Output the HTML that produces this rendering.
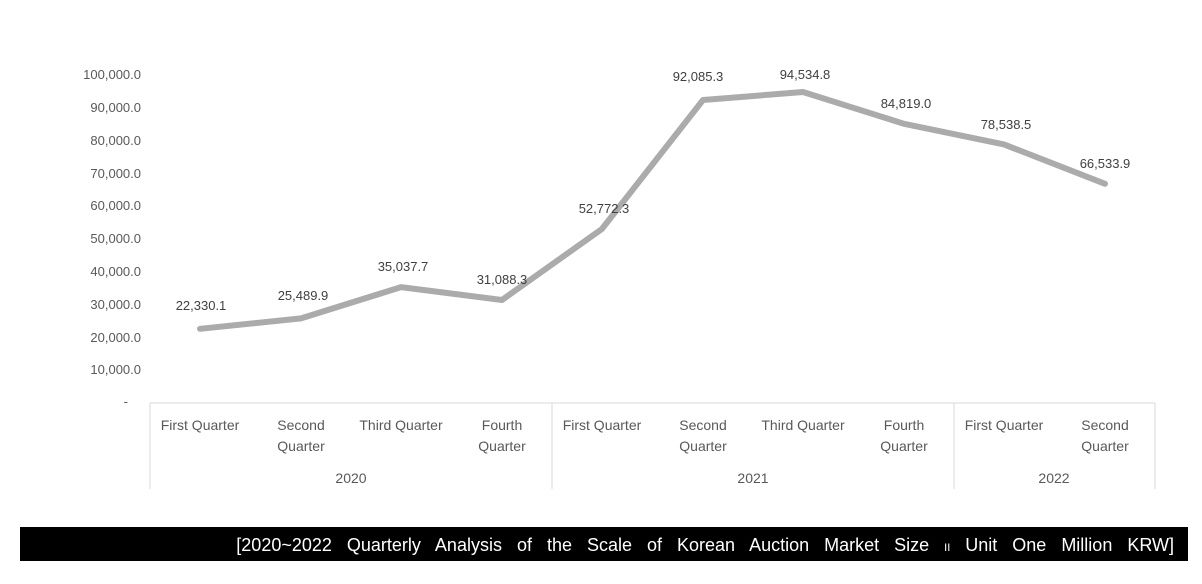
<!DOCTYPE html>
<html><head><meta charset="utf-8"><style>
body{margin:0;background:#fff;width:1202px;height:579px;overflow:hidden;font-family:"Liberation Sans",sans-serif;}
</style></head><body>
<svg width="1202" height="579" xmlns="http://www.w3.org/2000/svg" font-family="Liberation Sans, sans-serif">
<g fill="#595959" font-size="13" text-anchor="end">
<text x="141" y="79">100,000.0</text>
<text x="141" y="112">90,000.0</text>
<text x="141" y="145">80,000.0</text>
<text x="141" y="178">70,000.0</text>
<text x="141" y="210">60,000.0</text>
<text x="141" y="243">50,000.0</text>
<text x="141" y="276">40,000.0</text>
<text x="141" y="309">30,000.0</text>
<text x="141" y="342">20,000.0</text>
<text x="141" y="374">10,000.0</text>
<text x="128" y="406">-</text>
</g>
<g stroke="#d9d9d9" stroke-width="1" fill="none">
<line x1="150" y1="403" x2="1155" y2="403"/>
<line x1="150" y1="403" x2="150" y2="489"/>
<line x1="552" y1="403" x2="552" y2="489"/>
<line x1="954" y1="403" x2="954" y2="489"/>
<line x1="1155" y1="403" x2="1155" y2="489"/>
</g>
<polyline fill="none" stroke="#ababab" stroke-width="6" stroke-linejoin="round" stroke-linecap="round"
points="200,328.8 301,318.4 401,287.1 502,300 602,228.9 703,100 803,92 904,123.8 1004,144.4 1105,183.8"/>
<g fill="#404040" font-size="13" text-anchor="middle">
<text x="201" y="310">22,330.1</text>
<text x="303" y="300">25,489.9</text>
<text x="403" y="271">35,037.7</text>
<text x="502" y="284">31,088.3</text>
<text x="604" y="213">52,772.3</text>
<text x="698" y="81">92,085.3</text>
<text x="805" y="79">94,534.8</text>
<text x="906" y="108">84,819.0</text>
<text x="1006" y="129">78,538.5</text>
<text x="1105" y="168">66,533.9</text>
</g>
<g fill="#595959" font-size="14" text-anchor="middle">
<text x="200" y="430">First Quarter</text>
<text x="301" y="430">Second</text><text x="301" y="451">Quarter</text>
<text x="401" y="430">Third Quarter</text>
<text x="502" y="430">Fourth</text><text x="502" y="451">Quarter</text>
<text x="602" y="430">First Quarter</text>
<text x="703" y="430">Second</text><text x="703" y="451">Quarter</text>
<text x="803" y="430">Third Quarter</text>
<text x="904" y="430">Fourth</text><text x="904" y="451">Quarter</text>
<text x="1004" y="430">First Quarter</text>
<text x="1105" y="430">Second</text><text x="1105" y="451">Quarter</text>
<text x="351" y="483">2020</text>
<text x="753" y="483">2021</text>
<text x="1054" y="483">2022</text>
</g>
<rect x="20" y="527" width="1168" height="34" fill="#000"/>
<text x="1174" y="551" fill="#fff" font-size="18" text-anchor="end" word-spacing="10">[2020~2022 Quarterly Analysis of the Scale of Korean Auction Market Size <tspan font-size="11">II</tspan> Unit One Million KRW]</text>
</svg>
</body></html>
